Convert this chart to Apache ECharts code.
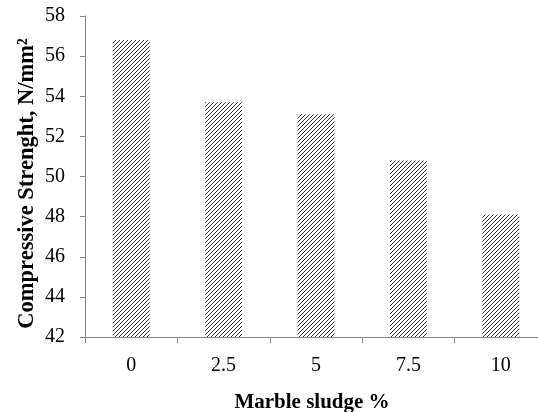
<!DOCTYPE html>
<html>
<head>
<meta charset="utf-8">
<script src="https://cdn.jsdelivr.net/npm/echarts@6/dist/echarts.min.js"></script>
<style>html,body{margin:0;padding:0;background:#fff;}#c{width:538px;height:412px;}</style>
</head>
<body>
<div id="c"></div>
<script>
var categories = ['0', '2.5', '5', '7.5', '10'];
var strength = [56.8, 53.7, 53.1, 50.8, 48.1];
var yTicks = [42, 44, 46, 48, 50, 52, 54, 56, 58];

function hatch() {
  var s = 4;
  var c = document.createElement('canvas');
  c.width = s; c.height = s;
  var g = c.getContext('2d');
  g.fillStyle = '#fff';
  g.fillRect(0, 0, s, s);
  g.strokeStyle = '#333';
  g.lineWidth = 1.0;
  g.beginPath();
  g.moveTo(-1, s + 1); g.lineTo(s + 1, -1);
  g.moveTo(-1, 1); g.lineTo(1, -1);
  g.moveTo(s - 1, s + 1); g.lineTo(s + 1, s - 1);
  g.stroke();
  return c;
}

var chart = echarts.init(document.getElementById('c'), null, {renderer: 'canvas'});
var font = '"Liberation Serif", "Times New Roman", serif';
chart.setOption({
  animation: false,
  backgroundColor: '#fff',
  grid: {left: 85, top: 16, width: 462, bottom: 75, containLabel: false, outerBoundsMode: 'none'},
  xAxis: {
    type: 'category',
    data: categories,
    name: 'Marble sludge %',
    nameLocation: 'middle',
    nameGap: 55,
    nameMoveOverlap: false,
    nameTextStyle: {fontFamily: font, fontWeight: 'bold', fontSize: 21, color: '#000', padding: [0, 0, 0, -8]},
    axisLine: {lineStyle: {color: '#888', width: 1}},
    axisTick: {show: true, length: 6, lineStyle: {color: '#888'}},
    axisLabel: {fontFamily: font, fontSize: 20, color: '#000', margin: 19},
    splitLine: {show: false}
  },
  yAxis: {
    type: 'value',
    min: 42, max: 58, interval: 2,
    name: 'Compressive Strenght, N/mm²',
    nameLocation: 'middle',
    nameGap: 46,
    nameMoveOverlap: false,
    nameTextStyle: {fontFamily: font, fontWeight: 'bold', fontSize: 22.5, color: '#000', padding: [0, 14, 0, 0]},
    axisLine: {show: true, lineStyle: {color: '#888', width: 1}},
    axisTick: {show: true, length: 5, lineStyle: {color: '#888'}},
    axisLabel: {fontFamily: font, fontSize: 20, color: '#000', margin: 20,
      formatter: function (v) { return yTicks.indexOf(v) >= 0 ? String(v) : ''; }},
    splitLine: {show: false}
  },
  series: [{
    type: 'bar',
    data: strength,
    barWidth: '40%',
    itemStyle: {color: {image: hatch(), repeat: 'repeat'}}
  }]
});
</script>
</body>
</html>
